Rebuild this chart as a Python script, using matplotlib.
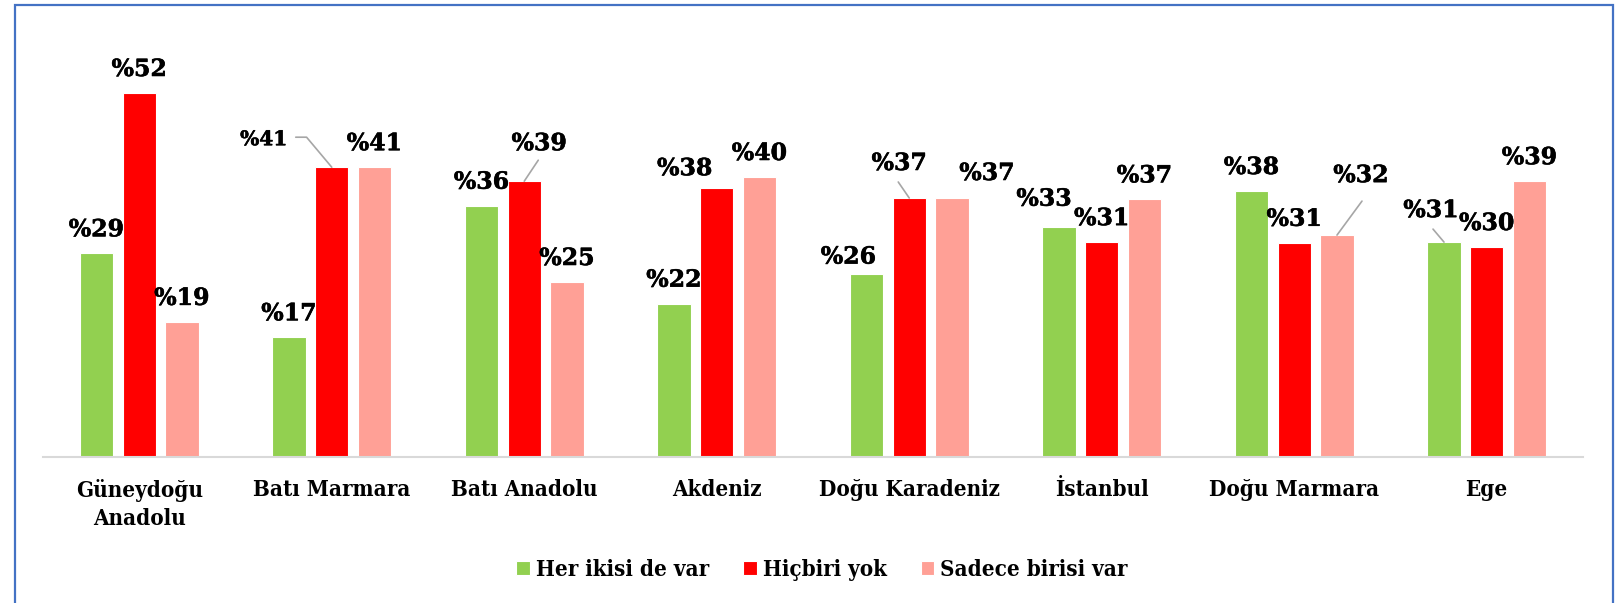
import matplotlib
matplotlib.use("Agg")
import matplotlib.pyplot as plt
import matplotlib.patheffects as pe
from matplotlib.patches import Rectangle
import numpy as np

categories = ["Güneydoğu\nAnadolu", "Batı Marmara", "Batı Anadolu", "Akdeniz",
              "Doğu Karadeniz", "İstanbul", "Doğu Marmara", "Ege"]
series_names = ["Her ikisi de var", "Hiçbiri yok", "Sadece birisi var"]
her_ikisi = [29.1, 17.1, 35.9, 21.9, 26.2, 32.9, 38.0, 30.7]
hicbiri = [52.0, 41.4, 39.4, 38.4, 37.0, 30.7, 30.6, 30.0]
sadece = [19.3, 41.4, 25.0, 40.0, 37.0, 36.8, 31.7, 39.4]

colors = ["#92D050", "#FF0000", "#FFA096"]
W, H = 1622, 603
fig = plt.figure(figsize=(W / 100, H / 100), dpi=100)
fig.patch.set_facecolor("white")

ax = fig.add_axes([43 / W, (H - 457) / H, 1540 / W, 420 / H])
ax.set_xlim(-0.5, 7.5)
ax.set_ylim(0, 60)

x = np.arange(len(categories))
bw = 0.174
step = 0.222
all_vals = [her_ikisi, hicbiri, sadece]
for i, vals in enumerate(all_vals):
    ax.bar(x + (i - 1) * step, vals, width=bw, color=colors[i],
           edgecolor="white", linewidth=0.8, label=series_names[i], zorder=2)

for s in ["top", "right", "left"]:
    ax.spines[s].set_visible(False)
ax.spines["bottom"].set_color("#D9D9D9")
ax.spines["bottom"].set_linewidth(1.5)
ax.set_yticks([])
ax.set_xticks(x)
serif = ["DejaVu Serif Condensed", "DejaVu Serif"]
lab_font = dict(family=serif, weight="bold", stretch="condensed", size=16)
ax.set_xticklabels(categories, fontdict=lab_font, linespacing=1.35)
ax.tick_params(axis="x", length=0, pad=16)

heavy = [pe.withStroke(linewidth=0.4, foreground="black")]
val_font = dict(family=["DejaVu Serif"], weight="bold", size=17)
# custom offsets (pixels) for some labels: (series, category) -> (dx, dy, small, leader)
special = {
    (1, 1): (-68, 28, True, (-36, 30, "angle,angleA=0,angleB=130")),
    (1, 2): (15, 38, False, (14, 21, None)),
    (1, 3): (-32, 20, False, None),
    (0, 4): (-18, 17, False, None),
    (1, 4): (-10, 35, False, (-11, 16, None)),
    (2, 4): (35, 25, False, None),
    (0, 5): (-15, 28, False, None),
    (2, 6): (24, 60, False, (25, 34, None)),
    (0, 7): (-13, 32, False, (-11, 13, None)),
}
for i, vals in enumerate(all_vals):
    for j, v in enumerate(vals):
        bx = x[j] + (i - 1) * step
        dx, dy, small, leader = 0, 24, False, None
        if (i, j) in special:
            dx, dy, small, leader = special[(i, j)]
        fd = dict(val_font)
        if small:
            fd["size"] = 14.5
        ax.annotate(f"%{round(v)}", xy=(bx, v), xytext=(dx, dy), textcoords="offset pixels",
                    ha="center", va="center", color="black", path_effects=heavy,
                    **fd, zorder=3)
        if leader is not None:
            lx, ly, cs = leader
            ap = dict(arrowstyle="-", color="#A6A6A6", lw=1.2, shrinkA=0, shrinkB=0)
            if cs:
                ap["connectionstyle"] = cs
            ax.annotate("", xy=(bx, v), xytext=(lx, ly), textcoords="offset pixels",
                        arrowprops=ap, zorder=3)

leg = fig.legend(loc="center", bbox_to_anchor=(822 / W, 1 - 570 / H), ncol=3,
                 frameon=False, handlelength=0.6, handleheight=0.6,
                 handletextpad=0.27, columnspacing=1.55,
                 prop=dict(family=serif, weight="bold", stretch="condensed", size=16))

fig.patches.append(Rectangle((15 / W, -0.05), (1613 - 15) / W, 1.05 - 5 / H,
                             transform=fig.transFigure, fill=False,
                             edgecolor="#4472C4", linewidth=1.6))

fig.savefig("out.png", dpi=100)
